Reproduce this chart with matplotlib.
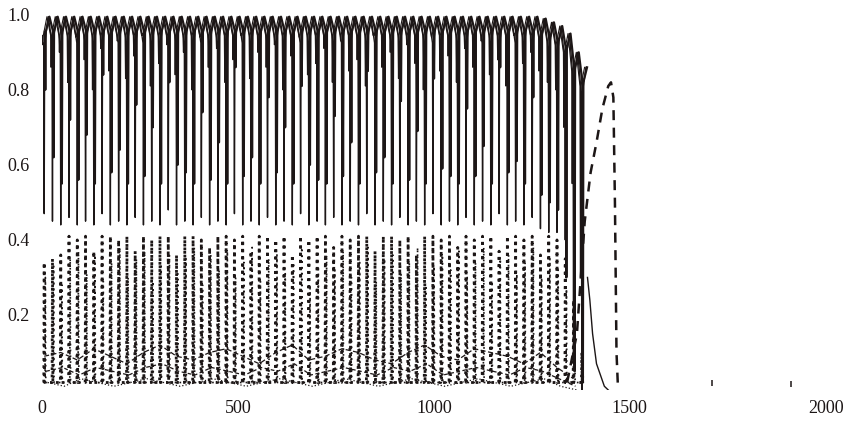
import numpy as np
import matplotlib
matplotlib.use('Agg')
import matplotlib.pyplot as plt

plt.rcParams['font.family'] = ['Liberation Serif', 'DejaVu Serif']

# one dip / spike per cycle, cycles ~21 units apart
n_cycles = 66
period = 21.1
centers = 6 + period * np.arange(n_cycles)

# solid curves: value at the bottom of each dip
s1_low = [0.47, 0.45, 0.44, 0.46, 0.44, 0.45, 0.44, 0.47, 0.44, 0.45,
          0.44, 0.46, 0.44, 0.45, 0.44, 0.48, 0.44, 0.45, 0.44, 0.46,
          0.44, 0.45, 0.44, 0.47, 0.44, 0.45, 0.44, 0.46, 0.44, 0.45,
          0.44, 0.47, 0.44, 0.45, 0.44, 0.46, 0.44, 0.45, 0.44, 0.47,
          0.44, 0.45, 0.44, 0.46, 0.44, 0.45, 0.44, 0.47, 0.44, 0.45,
          0.44, 0.46, 0.44, 0.45, 0.44, 0.47, 0.44, 0.45, 0.44, 0.46,
          0.43, 0.42, 0.42, 0.40, 0.08, 0.00]
s2_low = [0.80, 0.62, 0.55, 0.72, 0.56, 0.68, 0.55, 0.84, 0.58, 0.64,
          0.55, 0.76, 0.57, 0.70, 0.55, 0.82, 0.60, 0.58, 0.55, 0.74,
          0.56, 0.66, 0.55, 0.86, 0.57, 0.62, 0.55, 0.78, 0.58, 0.70,
          0.55, 0.81, 0.60, 0.56, 0.55, 0.73, 0.57, 0.66, 0.55, 0.85,
          0.58, 0.62, 0.55, 0.77, 0.56, 0.69, 0.55, 0.83, 0.59, 0.57,
          0.55, 0.75, 0.57, 0.65, 0.55, 0.86, 0.58, 0.61, 0.55, 0.78,
          0.52, 0.50, 0.48, 0.30, 0.05, 0.02]
s3_low = [0.92, 0.86, 0.90, 0.82, 0.94, 0.88, 0.80, 0.91, 0.85, 0.93,
          0.83, 0.89, 0.95, 0.81, 0.87, 0.92, 0.84, 0.90, 0.80, 0.94,
          0.86, 0.91, 0.82, 0.88, 0.95, 0.83, 0.90, 0.86, 0.92, 0.80,
          0.89, 0.94, 0.84, 0.87, 0.91, 0.82, 0.93, 0.85, 0.88, 0.81,
          0.95, 0.86, 0.90, 0.83, 0.92, 0.87, 0.80, 0.94, 0.85, 0.89,
          0.82, 0.91, 0.86, 0.93, 0.84, 0.88, 0.81, 0.95, 0.87, 0.90,
          0.85, 0.82, 0.80, 0.70, 0.55, 0.30]
# crest of each cycle (drops at the end of the run)
crests = [0.995] * 60 + [0.99, 0.98, 0.97, 0.95, 0.90, 0.86]

# dotted curves: value at the top of each spike
d1_peak = [0.34, 0.35, 0.36, 0.41, 0.40, 0.41, 0.37, 0.41, 0.41, 0.40,
           0.41, 0.37, 0.41, 0.40, 0.41, 0.41, 0.36, 0.41, 0.41, 0.40,
           0.38, 0.41, 0.41, 0.40, 0.41, 0.37, 0.41, 0.41, 0.40, 0.41,
           0.36, 0.41, 0.40, 0.41, 0.41, 0.38, 0.41, 0.40, 0.41, 0.41,
           0.37, 0.41, 0.41, 0.40, 0.41, 0.36, 0.41, 0.41, 0.40, 0.41,
           0.38, 0.41, 0.40, 0.41, 0.41, 0.37, 0.41, 0.41, 0.40, 0.41,
           0.36, 0.41, 0.40, 0.35, 0.24, 0.10]
d2_peak = [0.30, 0.33, 0.28, 0.35, 0.37, 0.31, 0.36, 0.29, 0.34, 0.38,
           0.30, 0.35, 0.37, 0.29, 0.33, 0.36, 0.31, 0.35, 0.38, 0.28,
           0.36, 0.32, 0.37, 0.30, 0.34, 0.38, 0.29, 0.35, 0.36, 0.31,
           0.34, 0.38, 0.28, 0.33, 0.36, 0.32, 0.37, 0.30, 0.34, 0.38,
           0.29, 0.35, 0.36, 0.31, 0.34, 0.38, 0.28, 0.33, 0.36, 0.32,
           0.37, 0.30, 0.34, 0.38, 0.29, 0.35, 0.36, 0.31, 0.34, 0.38,
           0.30, 0.35, 0.32, 0.27, 0.18, 0.06]

# low-lying curves, one value every second cycle
low_a = [0.09, 0.10, 0.08, 0.11, 0.09, 0.07, 0.10, 0.12, 0.09, 0.08, 0.10,
         0.11, 0.09, 0.07, 0.10, 0.12, 0.08, 0.09, 0.11, 0.10, 0.08, 0.07,
         0.10, 0.12, 0.09, 0.08, 0.11, 0.10, 0.09, 0.07, 0.10, 0.06, 0.03]
low_b = [0.05, 0.06, 0.04, 0.06, 0.05, 0.04, 0.06, 0.07, 0.05, 0.04, 0.06,
         0.05, 0.04, 0.06, 0.05, 0.07, 0.04, 0.05, 0.06, 0.05, 0.04, 0.06,
         0.05, 0.07, 0.04, 0.05, 0.06, 0.05, 0.04, 0.06, 0.05, 0.03, 0.01]
low_c = [0.02, 0.01, 0.03, 0.02, 0.01, 0.02, 0.03, 0.02, 0.01, 0.02, 0.03,
         0.02, 0.01, 0.02, 0.03, 0.02, 0.01, 0.02, 0.03, 0.02, 0.01, 0.02,
         0.03, 0.02, 0.01, 0.02, 0.03, 0.02, 0.01, 0.02, 0.03, 0.01, 0.00]

# dashed curve at the end of the run
dash_x = [1340, 1365, 1385, 1400, 1415, 1430, 1445, 1452, 1458, 1462, 1466, 1470]
dash_y = [0.02, 0.15, 0.45, 0.58, 0.66, 0.75, 0.81, 0.82, 0.78, 0.50, 0.10, 0.00]

# solid tail after the last dip
tail_x = [1392, 1398, 1405, 1415, 1425, 1435, 1445]
tail_y = [0.30, 0.24, 0.15, 0.07, 0.04, 0.01, 0.00]

# two isolated small blips far to the right
blip_x = [1710, 1910]
blip_y = [0.02, 0.015]


def dips(shift, lows, drop, w=1.2):
    # shoulder = crest - drop, dip to the low, back up, crest half a cycle later
    c = centers + shift
    top = np.asarray(crests)
    sh = top - drop
    x = np.column_stack([c - w, c, c + w, c + period / 2]).ravel()
    y = np.column_stack([sh, lows, sh, top]).ravel()
    return x, y


def spikes(shift, peaks, base=0.02, w=1.0):
    c = centers + shift
    b = np.full(n_cycles, base)
    x = np.column_stack([c - w, c, c + w]).ravel()
    y = np.column_stack([b, peaks, b]).ravel()
    return x, y


fig = plt.figure(figsize=(8.54, 4.23), dpi=100)
ax = fig.add_axes([0.049, 0.078, 0.918, 0.887])
ink = '#1c1616'

x, y = dips(-3.5, s3_low, 0.05)
ax.plot(x, y, color=ink, lw=0.8)
x, y = dips(0.0, s1_low, 0.07)
ax.plot(x, y, color=ink, lw=1.0)
x, y = dips(2.8, s2_low, 0.04)
ax.plot(x, y, color=ink, lw=1.6)
ax.plot(tail_x, tail_y, color=ink, lw=1.0)

x, y = spikes(0.0, d1_peak)
ax.plot(x, y, color=ink, lw=2.0, dashes=(1.0, 1.6))
x, y = spikes(3.0, d2_peak)
ax.plot(x, y, color=ink, lw=1.2, dashes=(1.0, 2.5))

ax.plot(centers[::2], low_a, color=ink, lw=0.9, dashes=(4, 2))
ax.plot(centers[::2] + 5, low_b, color=ink, lw=0.9, dashes=(3, 2))
ax.plot(centers[::2] + 9, low_c, color=ink, lw=0.9, linestyle=':')

ax.plot(dash_x, dash_y, color=ink, lw=1.8, dashes=(4, 3))
ax.plot(blip_x, blip_y, linestyle='none', marker='|', ms=5, mew=1.1, color=ink)

ax.set_xlim(0, 2000)
ax.set_ylim(0, 1.0)
ax.set_xticks([0, 500, 1000, 1500, 2000])
ax.set_yticks([0.2, 0.4, 0.6, 0.8, 1.0])
ax.set_yticklabels(['0.2', '0.4', '0.6', '0.8', '1.0'])
for s in ax.spines.values():
    s.set_visible(False)
ax.tick_params(length=0, labelsize=13, colors=ink)
ax.tick_params(axis='y', pad=9)
ax.tick_params(axis='x', pad=7)

fig.savefig('out.png', dpi=100)
